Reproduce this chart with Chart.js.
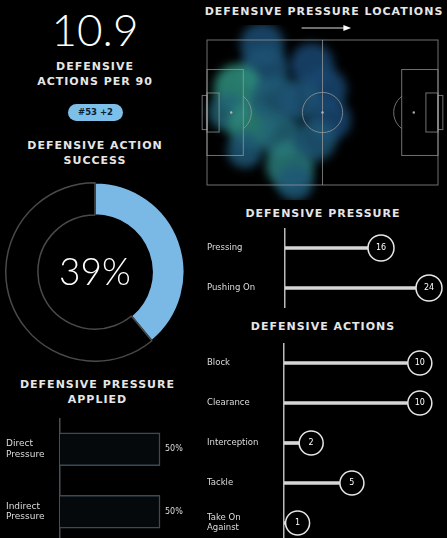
<!DOCTYPE html>
<html lang="en">
<head>
<meta charset="UTF-8">
<title>Defensive profile</title>
<style>
  body { margin: 0; background: #000; }
  #wrap { position: relative; width: 447px; height: 538px; overflow: hidden; background: #000;
          font-family: 'DejaVu Sans', sans-serif; color: #e6e6e6; }
  .txt { position: absolute; text-align: center; white-space: nowrap; }
  .title { font-weight: bold; font-size: 11px; line-height: 15px; letter-spacing: 1px; }
  .box { position: absolute; }
</style>
</head>
<body>
<div id="wrap">
  <div class="txt" id="bigNum" style="left:0;top:5px;width:190px;font-family:Lato;font-weight:300;font-size:44px;line-height:48px;color:#fff"></div>
  <div class="txt title" style="left:0;top:59px;width:190px">DEFENSIVE<br>ACTIONS PER 90</div>
  <div class="txt" id="pill" style="left:68px;top:104px;width:55px;height:17px;line-height:17px;border-radius:9px;background:#7cc0ea;color:#0b2033;font-size:8.5px;font-weight:bold"></div>
  <div class="txt title" style="left:0;top:138px;width:190px">DEFENSIVE ACTION<br>SUCCESS</div>
  <div class="txt title" style="left:0;top:377px;width:195px">DEFENSIVE PRESSURE<br>APPLIED</div>
  <div class="txt title" style="left:199px;top:4px;width:250px">DEFENSIVE PRESSURE LOCATIONS</div>
  <div class="txt title" style="left:197px;top:206px;width:252px">DEFENSIVE PRESSURE</div>
  <div class="txt title" style="left:197px;top:319px;width:252px">DEFENSIVE ACTIONS</div>

  <div class="box" style="left:5px;top:182px;width:180px;height:180px"><canvas id="donut"></canvas></div>
  <div class="box" style="left:0;top:418px;width:200px;height:125px"><canvas id="applied"></canvas></div>
  <div class="box" style="left:195px;top:25px;width:252px;height:175px"><canvas id="heat"></canvas></div>
  <div class="box" style="left:195px;top:228px;width:252px;height:80px"><canvas id="pressure"></canvas></div>
  <div class="box" style="left:195px;top:343px;width:252px;height:200px"><canvas id="actions"></canvas></div>
</div>

<script src="https://cdn.jsdelivr.net/npm/chart.js"></script>
<script>
// headline numbers
const actionsPer90 = '10.9';
const rankText = '#53 +2';
const successPct = 39;

// defensive pressure applied
const appliedLabels = [['Direct', 'Pressure'], ['Indirect', 'Pressure']];
const appliedValues = [50, 50];

// defensive pressure
const pressureLabels = ['Pressing', 'Pushing On'];
const pressureValues = [16, 24];

// defensive actions
const actionLabels = ['Block', 'Clearance', 'Interception', 'Tackle', ['Take On', 'Against']];
const actionValues = [10, 10, 2, 5, 1];

// pressure locations (metres on a 105 x 68 pitch), blob radius (px) and intensity
const heatX = [25.0, 26.4, 14.1, 9.5, 20.5, 17.3, 30.9, 33.2, 37.7, 40.0, 47.7, 53.6, 55.9, 49.1, 42.3];
const heatY = [2.3, 14.1, 22.5, 33.8, 39.8, 51.6, 28.1, 44.5, 58.6, 67.0, 11.7, 23.4, 37.5, 46.9, 28.1];
const heatR = [22, 24, 24, 19, 24, 18, 24, 22, 24, 18, 22, 22, 21, 21, 21];
const heatV = [0.2, 0.25, 0.9, 0.45, 0.85, 0.3, 0.35, 0.45, 0.7, 0.3, 0.15, 0.15, 0.15, 0.3, 0.25];

document.getElementById('bigNum').textContent = actionsPer90;
document.getElementById('pill').textContent = rankText;

Chart.defaults.font.family = "'DejaVu Sans', sans-serif";
Chart.defaults.color = '#ddd';
Chart.defaults.animation = false;
Chart.defaults.plugins.legend.display = false;
Chart.defaults.plugins.tooltip.enabled = false;

// ---- donut ----
new Chart(document.getElementById('donut'), {
    type: 'doughnut',
    data: {
        labels: ['Success', 'Fail'],
        datasets: [{
            data: [successPct, 100 - successPct],
            backgroundColor: ['#7ab8e6', '#000'],
            borderColor: ['#000', '#4a4a4a'],
            borderWidth: 1.5
        }]
    },
    options: {
        responsive: true,
        maintainAspectRatio: false,
        cutout: '64%'
    },
    plugins: [{
        id: 'centerText',
        afterDraw(chart) {
            const c = chart.ctx, a = chart.chartArea;
            c.save();
            c.fillStyle = '#fff';
            c.font = "300 37px Lato";
            c.textAlign = 'center';
            c.textBaseline = 'middle';
            c.fillText(successPct + '%', (a.left + a.right) / 2, (a.top + a.bottom) / 2 + 1);
            c.restore();
        }
    }]
});

// y axis with fixed width and no extra vertical padding for labels
function fixedY(width, borderColor, fontSize) {
    return {
        afterFit(s) { s.width = width; s.paddingTop = 0; s.paddingBottom = 0; },
        grid: { display: false },
        border: { color: borderColor, width: 1.5 },
        ticks: { crossAlign: 'far', padding: 5, font: { size: fontSize }, color: '#ddd' }
    };
}

// ---- pressure applied ----
new Chart(document.getElementById('applied'), {
    type: 'bar',
    data: {
        labels: appliedLabels,
        datasets: [{
            data: appliedValues,
            backgroundColor: '#05090c',
            borderColor: '#3a4b57',
            borderWidth: 1.5,
            barThickness: 33
        }]
    },
    options: {
        indexAxis: 'y',
        responsive: true,
        maintainAspectRatio: false,
        layout: { padding: { left: 6 }, autoPadding: false },
        scales: {
            x: { display: false, min: 0, max: 70 },
            y: fixedY(54, '#4a4f55', 9)
        }
    },
    plugins: [{
        id: 'pctLabels',
        afterDatasetsDraw(chart) {
            const c = chart.ctx;
            c.save();
            c.fillStyle = '#ddd';
            c.font = '8px "DejaVu Sans"';
            c.textBaseline = 'middle';
            chart.getDatasetMeta(0).data.forEach((bar, i) => {
                c.fillText(appliedValues[i] + '%', bar.x + 5, bar.y);
            });
            c.restore();
        }
    }]
});

// ---- lollipop helper ----
function lollipop(id, labels, values, max, radius, yWidth) {
    return new Chart(document.getElementById(id), {
        type: 'bar',
        data: {
            labels: labels,
            datasets: [{
                data: values,
                backgroundColor: '#d6d6d6',
                barThickness: 3,
                order: 2
            }, {
                type: 'line',
                indexAxis: 'y',
                data: values,
                showLine: false,
                pointRadius: radius,
                pointBackgroundColor: '#000',
                pointBorderColor: '#e6e6e6',
                pointBorderWidth: 1.5,
                clip: false,
                order: 1
            }]
        },
        options: {
            indexAxis: 'y',
            responsive: true,
            maintainAspectRatio: false,
            layout: { padding: { left: 12 }, autoPadding: false },
            scales: {
                x: { display: false, min: 0, max: max },
                y: fixedY(yWidth, '#bbb', 8.5)
            }
        },
        plugins: [{
            id: 'circleLabels',
            afterDatasetsDraw(chart) {
                const c = chart.ctx;
                c.save();
                c.fillStyle = '#fff';
                c.font = '8px "DejaVu Sans"';
                c.textAlign = 'center';
                c.textBaseline = 'middle';
                chart.getDatasetMeta(1).data.forEach((p, i) => {
                    c.fillText(String(values[i]), p.x, p.y);
                });
                c.restore();
            }
        }]
    });
}

lollipop('pressure', pressureLabels, pressureValues, 27, 13, 78);
lollipop('actions', actionLabels, actionValues, 12, 12, 77);

// ---- heat map on a pitch ----
function heatColor(v) {
    const r = Math.round(22 + 28 * v), g = Math.round(58 + 95 * v), b = Math.round(112 + 15 * v);
    return 'rgba(' + r + ',' + g + ',' + b + ',0.85)';
}

const pitchPlugin = {
    id: 'pitch',
    beforeDatasetsDraw(chart) {
        chart.ctx.save();
        chart.ctx.filter = 'blur(5px)';
    },
    afterDatasetsDraw(chart) {
        chart.ctx.restore();
        const c = chart.ctx, xs = chart.scales.x, ys = chart.scales.y;
        const X = v => xs.getPixelForValue(v), Y = v => ys.getPixelForValue(v);
        const k = (X(105) - X(0)) / 105;
        c.save();
        c.strokeStyle = 'rgba(160,160,160,0.7)';
        c.fillStyle = 'rgba(190,190,190,0.9)';
        c.lineWidth = 1;
        c.strokeRect(X(0), Y(0), X(105) - X(0), Y(68) - Y(0));
        c.beginPath(); c.moveTo(X(52.5), Y(0)); c.lineTo(X(52.5), Y(68)); c.stroke();
        c.beginPath(); c.arc(X(52.5), Y(34), 9.15 * k, 0, Math.PI * 2); c.stroke();
        c.beginPath(); c.arc(X(52.5), Y(34), 1.2, 0, Math.PI * 2); c.fill();
        [0, 105].forEach(g => {
            const d = g === 0 ? 1 : -1;
            const box = (depth, half) => c.strokeRect(Math.min(X(g), X(g + d * depth)), Y(34 - half),
                Math.abs(X(g + d * depth) - X(g)), Y(34 + half) - Y(34 - half));
            box(16.5, 20.15);
            box(5.5, 9.16);
            box(-2.2, 8);
            c.beginPath(); c.arc(X(g + d * 11), Y(34), 1.2, 0, Math.PI * 2); c.fill();
            const a = Math.acos(5.5 / 9.15);
            c.beginPath();
            if (g === 0) c.arc(X(11), Y(34), 9.15 * k, -a, a);
            else c.arc(X(94), Y(34), 9.15 * k, Math.PI - a, Math.PI + a);
            c.stroke();
        });
        // direction of play arrow
        c.strokeStyle = '#ddd';
        c.fillStyle = '#fff';
        const ay = Y(0) - 12;
        c.beginPath(); c.moveTo(X(43), ay); c.lineTo(X(64), ay); c.stroke();
        c.beginPath(); c.moveTo(X(65.5), ay); c.lineTo(X(62), ay - 3); c.lineTo(X(62), ay + 3); c.closePath(); c.fill();
        c.restore();
    }
};

new Chart(document.getElementById('heat'), {
    type: 'bubble',
    data: {
        datasets: [{
            data: heatX.map((x, i) => ({ x: x, y: heatY[i], r: heatR[i] })),
            backgroundColor: heatV.map(heatColor),
            borderWidth: 0,
            clip: false
        }]
    },
    options: {
        responsive: true,
        maintainAspectRatio: false,
        layout: { padding: { left: 12, right: 9, top: 15, bottom: 15 }, autoPadding: false },
        scales: {
            x: { display: false, min: 0, max: 105 },
            y: { display: false, min: 0, max: 68, reverse: true }
        }
    },
    plugins: [pitchPlugin]
});
</script>
</body>
</html>
